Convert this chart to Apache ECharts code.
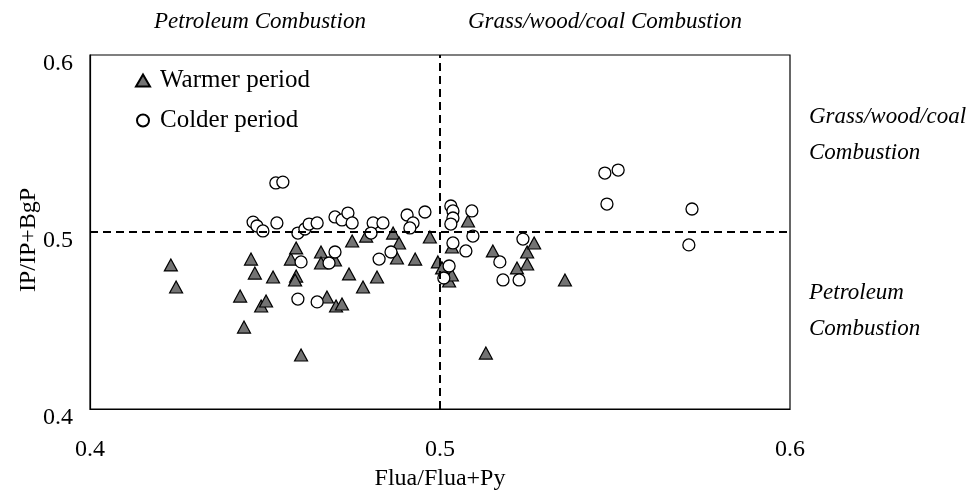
<!DOCTYPE html>
<html>
<head>
<meta charset="utf-8">
<script src="https://cdn.jsdelivr.net/npm/echarts@6/dist/echarts.min.js"></script>
<style>html,body{margin:0;padding:0;background:#fff;}#c{width:968px;height:491px;}</style>
</head>
<body>
<div id="c"></div>
<script>
const xTicks = [0.4, 0.5, 0.6];
const yTicks = [0.4, 0.5, 0.6];
const warmerX = [0.4231,0.4246,0.4429,0.4440,0.4460,0.4471,0.4489,0.4503,0.4523,0.4574,0.4589,0.4589,0.4586,0.4603,0.4660,0.4660,0.4700,0.4677,0.4703,0.4720,0.4740,0.4749,0.4780,0.4789,0.4820,0.4866,0.4883,0.4877,0.4929,0.4971,0.4994,0.5006,0.5026,0.5034,0.5034,0.5080,0.5151,0.5220,0.5249,0.5249,0.5269,0.5357,0.5131];
const warmerY = [0.4814,0.4689,0.4638,0.4463,0.4847,0.4768,0.4582,0.4610,0.4746,0.4847,0.4910,0.4751,0.4729,0.4305,0.4887,0.4825,0.4842,0.4633,0.4582,0.4593,0.4763,0.4949,0.4689,0.4977,0.4746,0.4994,0.4938,0.4853,0.4847,0.4972,0.4831,0.4797,0.4723,0.4757,0.4915,0.5062,0.4893,0.4797,0.4819,0.4887,0.4938,0.4729,0.4316];
const colderX = [0.4531,0.4551,0.4466,0.4477,0.4494,0.4534,0.4594,0.4614,0.4626,0.4649,0.4700,0.4720,0.4737,0.4749,0.4809,0.4837,0.4803,0.4906,0.4923,0.4914,0.4957,0.5031,0.5037,0.5037,0.5031,0.5091,0.5094,0.5471,0.5509,0.5477,0.5720,0.5237,0.4603,0.4683,0.4700,0.4594,0.4649,0.4826,0.4860,0.5026,0.5011,0.5037,0.5074,0.5171,0.5180,0.5226,0.5711];
const colderY = [0.5277,0.5282,0.5056,0.5034,0.5006,0.5051,0.4994,0.5017,0.5045,0.5051,0.5085,0.5068,0.5107,0.5051,0.5051,0.5051,0.4994,0.5096,0.5051,0.5023,0.5113,0.5147,0.5119,0.5079,0.5045,0.5119,0.4977,0.5333,0.5350,0.5158,0.5130,0.4960,0.4831,0.4825,0.4887,0.4621,0.4605,0.4847,0.4887,0.4808,0.4740,0.4938,0.4893,0.4831,0.4729,0.4729,0.4927];
const seriesNames = ['Warmer period', 'Colder period'];
const xTitle = 'Flua/Flua+Py';
const yTitle = 'IP/IP+BgP';
const topNotes = ['Petroleum Combustion', 'Grass/wood/coal Combustion'];
const rightNotes = ['Grass/wood/coal', 'Combustion', 'Petroleum', 'Combustion'];

const serif = 'Liberation Serif, Times New Roman, serif';
const zip = (a, b) => a.map((v, i) => [v, b[i]]);

const chart = echarts.init(document.getElementById('c'), null, {renderer: 'canvas'});
chart.setOption({
  backgroundColor: '#fff',
  animation: false,
  grid: {left: 90, right: 178, top: 55, bottom: 82, show: true, borderColor: '#000', borderWidth: 1.2, containLabel: false, outerBoundsMode: 'none'},
  legend: {
    orient: 'vertical', left: 130, top: 63, itemGap: 15,
    itemWidth: 14, itemHeight: 12,
    data: seriesNames,
    textStyle: {fontFamily: serif, fontSize: 25, color: '#000', padding: [0, 0, 0, 5]}
  },
  xAxis: {
    type: 'value', min: xTicks[0], max: xTicks[xTicks.length - 1], interval: 0.1,
    name: xTitle, nameLocation: 'middle', nameGap: 41,
    nameTextStyle: {fontFamily: serif, fontSize: 24, color: '#000'},
    axisLine: {show: true, lineStyle: {color: '#000', width: 1.2}},
    axisTick: {show: false}, splitLine: {show: false},
    axisLabel: {fontFamily: serif, fontSize: 24, color: '#000', margin: 29, formatter: v => v.toFixed(1)}
  },
  yAxis: {
    type: 'value', min: yTicks[0], max: yTicks[yTicks.length - 1], interval: 0.1,
    name: yTitle, nameLocation: 'middle', nameGap: 49, nameRotate: 90, nameMoveOverlap: false,
    nameTextStyle: {fontFamily: serif, fontSize: 24, color: '#000', padding: [0, 16, 0, 0]},
    axisLine: {show: true, lineStyle: {color: '#000', width: 1.2}},
    axisTick: {show: false}, splitLine: {show: false},
    axisLabel: {fontFamily: serif, fontSize: 24, color: '#000', margin: 17, verticalAlign: 'top', lineHeight: 18, formatter: v => v.toFixed(1)}
  },
  graphic: [
    {type: 'text', left: 154, top: 10, style: {text: topNotes[0], font: 'italic 23px ' + serif, fill: '#000'}},
    {type: 'text', left: 468, top: 10, style: {text: topNotes[1], font: 'italic 23px ' + serif, fill: '#000'}},
    {type: 'text', left: 809, top: 105, style: {text: rightNotes[0], font: 'italic 23px ' + serif, fill: '#000'}},
    {type: 'text', left: 809, top: 141, style: {text: rightNotes[1], font: 'italic 23px ' + serif, fill: '#000'}},
    {type: 'text', left: 809, top: 281, style: {text: rightNotes[2], font: 'italic 23px ' + serif, fill: '#000'}},
    {type: 'text', left: 809, top: 317, style: {text: rightNotes[3], font: 'italic 23px ' + serif, fill: '#000'}}
  ],
  series: [
    {
      name: seriesNames[0], type: 'scatter', symbol: 'triangle', symbolSize: [13, 12],
      itemStyle: {color: '#737373', borderColor: '#000', borderWidth: 1.2, opacity: 1},
      data: zip(warmerX, warmerY), z: 3
    },
    {
      name: seriesNames[1], type: 'scatter', symbol: 'circle', symbolSize: 12,
      itemStyle: {color: '#fff', borderColor: '#000', borderWidth: 1.3, opacity: 1},
      data: zip(colderX, colderY), z: 4,
      markLine: {
        silent: true, symbol: ['none', 'none'], label: {show: false},
        lineStyle: {color: '#000', width: 2, type: [8, 5]},
        data: [{xAxis: 0.5}, {yAxis: 0.5}]
      }
    }
  ]
});
</script>
</body>
</html>
